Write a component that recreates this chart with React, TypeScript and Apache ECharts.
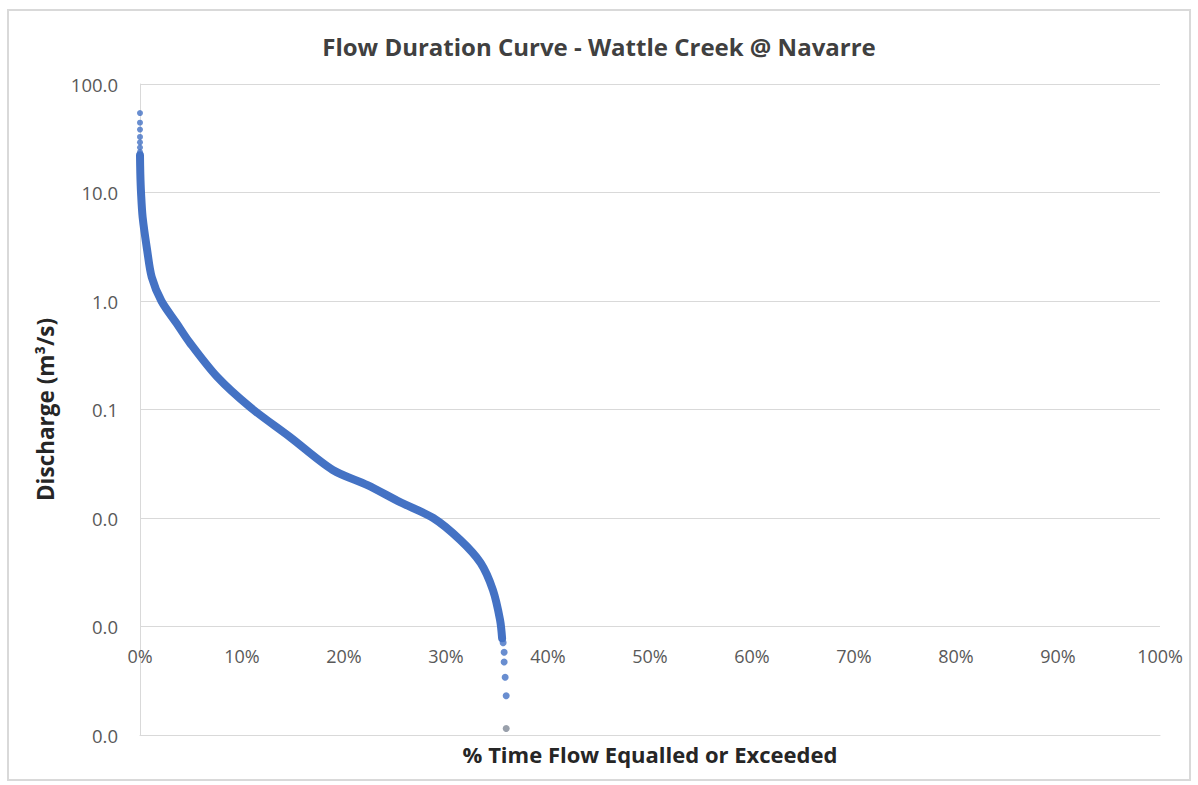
import React, { useEffect, useRef } from "react";
import * as echarts from "echarts";

// % of time flow equalled or exceeded (continuous part of the curve)
const curvePercent = [0.0, 0.03, 0.1, 0.26, 0.7, 1.15, 2.1, 3.6, 4.9, 7.56, 10.8, 14.7, 18.9, 22.3, 25.5, 28.75, 31.4, 33.4, 34.6, 35.3, 35.5];
// discharge (m3/s) matching curvePercent
const curveDischarge = [22, 15, 10, 5.9, 2.95, 1.66, 1.0, 0.62, 0.41, 0.2, 0.105, 0.0558, 0.0277, 0.0201, 0.014, 0.01, 0.00627, 0.00385, 0.00217, 0.00115, 0.00078];

// isolated high-flow points
const highPercent = [0, 0, 0, 0, 0, 0, 0];
const highDischarge = [54, 44, 38, 32.5, 29, 26, 23.6];

// isolated low-flow points
const lowPercent = [35.6, 35.7, 35.7, 35.8, 35.9];
const lowDischarge = [0.00071, 0.00058, 0.00047, 0.00034, 0.00023];
const minPercent = [35.9];
const minDischarge = [0.000115];

const xTicks = [0, 10, 20, 30, 40, 50, 60, 70, 80, 90, 100];

const FONT = "'Open Sans', Lato, sans-serif";
const BLUE = "#4472C4";

export default function App() {
  const ref = useRef<HTMLDivElement>(null);
  useEffect(() => {
    if (!ref.current) return;
    const chart = echarts.init(ref.current, null, { renderer: "svg" });
    const pairs = (xs: number[], ys: number[]) => xs.map((x, i) => [x, ys[i]]);
    chart.setOption({
      animation: false,
      backgroundColor: "#ffffff",
      textStyle: { fontFamily: FONT },
      title: {
        text: "Flow Duration Curve - Wattle Creek @ Navarre",
        left: "center",
        top: 29,
        textStyle: { fontFamily: FONT, fontSize: 24, fontWeight: "bold", color: "#404040" },
      },
      graphic: [
        {
          type: "rect",
          shape: { x: 8, y: 10, width: 1182, height: 770 },
          style: { fill: "none", stroke: "#d9d9d9", lineWidth: 2 },
          silent: true,
        },
      ],
      grid: { left: 140, right: 38, top: 84, bottom: 50, containLabel: false },
      xAxis: {
        type: "value",
        min: 0,
        max: 100,
        interval: 10,
        name: "% Time Flow Equalled or Exceeded",
        nameLocation: "middle",
        nameGap: 8,
        nameTextStyle: { fontFamily: FONT, fontSize: 22, fontWeight: "bold", color: "#262626", verticalAlign: "top" },
        axisLine: { show: true, lineStyle: { color: "#d9d9d9", width: 1 } },
        axisTick: { show: false },
        splitLine: { show: false },
        axisLabel: {
          margin: -88,
          fontFamily: FONT,
          fontSize: 18,
          color: "#595959",
          formatter: (v: number) => (xTicks.includes(v) ? `${v}%` : ""),
        },
      },
      yAxis: {
        type: "log",
        logBase: 10,
        min: 0.0001,
        max: 100,
        name: "Discharge (m\u00B3/s)",
        nameLocation: "middle",
        nameGap: 83,
        nameRotate: 90,
        nameTextStyle: { fontFamily: FONT, fontSize: 22.5, fontWeight: "bold", color: "#262626" },
        axisLine: { show: true, lineStyle: { color: "#d9d9d9", width: 1 } },
        axisTick: { show: false },
        splitLine: { show: true, lineStyle: { color: "#d9d9d9", width: 1 } },
        axisLabel: {
          margin: 22,
          fontFamily: FONT,
          fontSize: 18.5,
          color: "#595959",
          formatter: (v: number) => v.toFixed(1),
        },
      },
      series: [
        {
          type: "line",
          data: pairs(curvePercent, curveDischarge),
          smooth: 0.3,
          showSymbol: false,
          lineStyle: { color: BLUE, width: 8, cap: "round", join: "round" },
          z: 3,
        },
        {
          type: "scatter",
          data: pairs(highPercent, highDischarge),
          symbol: "circle",
          symbolSize: 6,
          itemStyle: { color: BLUE },
          z: 4,
        },
        {
          type: "scatter",
          data: pairs(lowPercent, lowDischarge),
          symbol: "circle",
          symbolSize: 7,
          itemStyle: { color: BLUE },
          z: 4,
        },
        {
          type: "scatter",
          data: pairs(minPercent, minDischarge),
          symbol: "circle",
          symbolSize: 7,
          itemStyle: { color: "#7f8896" },
          z: 4,
        },
      ],
    });
    return () => chart.dispose();
  }, []);
  return (
    <div
      ref={ref}
      style={{ position: "fixed", left: 0, top: 0, width: 1198, height: 785 }}
    />
  );
}
